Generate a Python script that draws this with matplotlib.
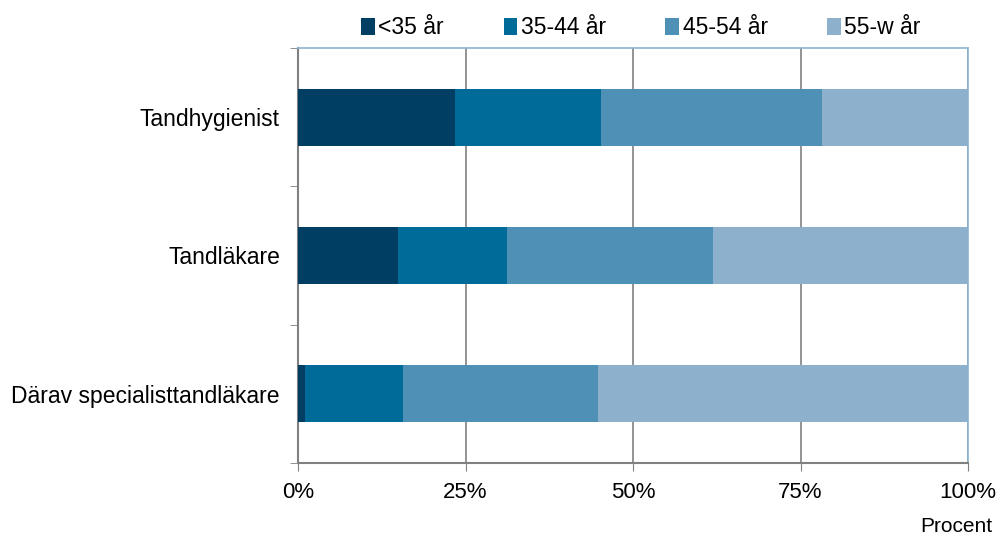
import matplotlib
matplotlib.use("Agg")
import matplotlib.pyplot as plt
import numpy as np
from matplotlib.patches import Patch

categories = ["Tandhygienist", "Tandläkare", "Därav specialisttandläkare"]
series_names = ["<35 år", "35-44 år", "45-54 år", "55-w år"]
under35 = [23.5, 14.9, 1.1]
age35_44 = [21.7, 16.3, 14.6]
age45_54 = [33.0, 30.7, 29.1]
age55w = [21.8, 38.1, 55.2]
xtick_labels = ["0%", "25%", "50%", "75%", "100%"]

colors = ["#003F63", "#006A99", "#4F91B6", "#8DB1CC"]

plt.rcParams['font.family'] = ['Liberation Sans', 'DejaVu Sans']

fig = plt.figure(figsize=(9.98, 5.36), dpi=100)
ax = fig.add_axes([298/998, (536-463)/536, (968-298)/998, (463-48)/536])

data = [under35, age35_44, age45_54, age55w]
y = np.arange(len(categories))
left = np.zeros(len(categories))
for vals, c, name in zip(data, colors, series_names):
    ax.barh(y, vals, left=left, color=c, height=0.41, label=name, zorder=3)
    left += np.array(vals)

ax.set_ylim(len(categories) - 0.5, -0.5)
ax.set_xlim(0, 100)
ax.set_xticks([0, 25, 50, 75, 100])
ax.set_xticklabels(xtick_labels, fontsize=16)
ax.set_yticks(y)
ax.set_yticklabels(categories, fontsize=16.5)
ax.tick_params(axis='y', length=0, pad=13)
ax.tick_params(axis='x', length=6, color='#808080', pad=8)
ax.set_yticks([-0.5, 0.5, 1.5, 2.5], minor=True)
ax.tick_params(axis='y', which='minor', length=6, color='#808080')

ax.grid(axis='x', color='#808080', linewidth=1.2, zorder=0)
for s in ['top', 'right']:
    ax.spines[s].set_color('#8DB5D3')
    ax.spines[s].set_linewidth(1.2)
for s in ['left', 'bottom']:
    ax.spines[s].set_color('#808080')
    ax.spines[s].set_linewidth(1.5)

handles = [Patch(facecolor=c, edgecolor='none') for c in colors]
fig.legend(handles, series_names, loc='center', bbox_to_anchor=(641/998, 1 - 28/536),
           ncol=4, frameon=False, fontsize=16.5, handlelength=0.6, handleheight=0.8,
           handletextpad=0.15, columnspacing=2.6)

fig.text(992/998, 1 - 527/536, "Procent", ha='right', va='center', fontsize=15)

fig.savefig("out.png", dpi=100)
